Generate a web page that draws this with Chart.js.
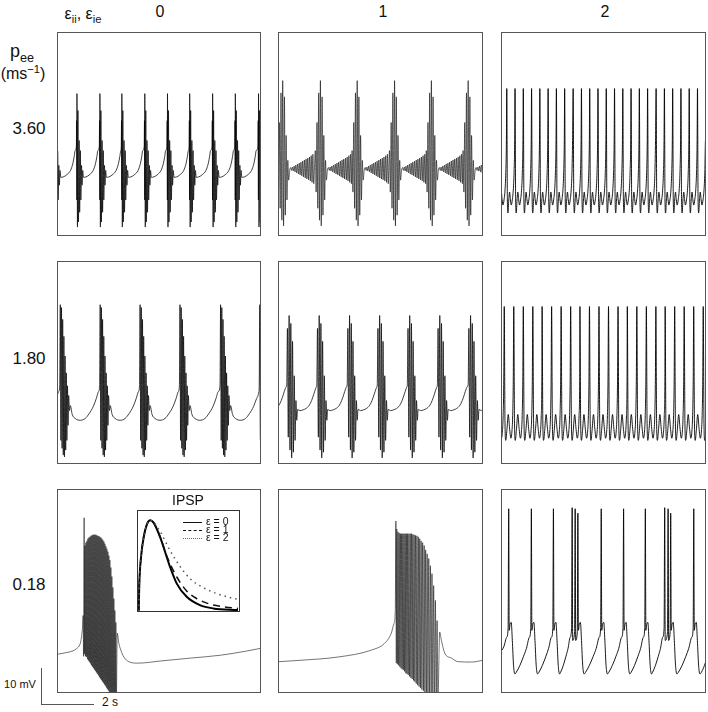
<!DOCTYPE html>
<html>
<head>
<meta charset="utf-8">
<script src="https://cdn.jsdelivr.net/npm/chart.js@4.4.1/dist/chart.umd.min.js"></script>
<style>
  body { margin: 0; background: #fff; }
  #fig { position: relative; width: 708px; height: 712px; background: #fff; font-family: "Liberation Sans", Arial, Helvetica, sans-serif; color: #111; }
  .panel { position: absolute; box-sizing: border-box; border: 1px solid #555; background: #fff; }
  .panel canvas { display: block; }
  .t { position: absolute; transform: translate(-50%, -50%); white-space: nowrap; line-height: 1; }
  .t sub, .t sup { font-size: 70%; line-height: 0; }
  .bar { position: absolute; background: #555; }
  .leg { position: absolute; font-size: 10.5px; line-height: 1; white-space: nowrap; }
  .leg i { display: inline-block; width: 19px; height: 0; vertical-align: middle; margin-right: 4px; }
</style>
</head>
<body>
<div id="fig">
  <div class="t" style="left:83px;top:14px;font-size:16px">ε<sub>ii</sub>, ε<sub>ie</sub></div>
  <div class="t" style="left:160px;top:12px;font-size:16px">0</div>
  <div class="t" style="left:383px;top:12px;font-size:16px">1</div>
  <div class="t" style="left:605px;top:12px;font-size:16px">2</div>
  <div class="t" style="left:22px;top:51px;font-size:18px">p<sub>ee</sub></div>
  <div class="t" style="left:23px;top:74px;font-size:16px">(ms<sup>−1</sup>)</div>
  <div class="t" style="left:29px;top:128px;font-size:17px">3.60</div>
  <div class="t" style="left:29px;top:358px;font-size:17px">1.80</div>
  <div class="t" style="left:29px;top:584px;font-size:17px">0.18</div>

  <div class="panel" style="left:57px;top:32px;width:204px;height:204px"><canvas id="pA" width="202" height="202"></canvas></div>
  <div class="panel" style="left:278px;top:32px;width:205px;height:204px"><canvas id="pB" width="203" height="202"></canvas></div>
  <div class="panel" style="left:501px;top:32px;width:205px;height:204px"><canvas id="pC" width="203" height="202"></canvas></div>
  <div class="panel" style="left:57px;top:261px;width:204px;height:203px"><canvas id="pD" width="202" height="201"></canvas></div>
  <div class="panel" style="left:278px;top:261px;width:205px;height:203px"><canvas id="pE" width="203" height="201"></canvas></div>
  <div class="panel" style="left:501px;top:261px;width:205px;height:203px"><canvas id="pF" width="203" height="201"></canvas></div>
  <div class="panel" style="left:57px;top:489px;width:204px;height:204px"><canvas id="pG" width="202" height="202"></canvas></div>
  <div class="panel" style="left:278px;top:489px;width:205px;height:204px"><canvas id="pH" width="203" height="202"></canvas></div>
  <div class="panel" style="left:501px;top:489px;width:205px;height:204px"><canvas id="pI" width="203" height="202"></canvas></div>

  <div class="t" style="left:188px;top:500px;font-size:14px">IPSP</div>
  <div class="panel" style="left:137px;top:510px;width:103px;height:102px;border-color:#333"><canvas id="pIpsp" width="101" height="100"></canvas></div>
  <div class="leg" style="left:183px;top:516px"><i style="border-top:1.5px solid #111"></i>ε = 0</div>
  <div class="leg" style="left:183px;top:524px"><i style="border-top:1.5px dashed #111"></i>ε = 1</div>
  <div class="leg" style="left:183px;top:532px"><i style="border-top:1.5px dotted #666"></i>ε = 2</div>

  <div class="bar" style="left:41px;top:668px;width:1px;height:37px"></div>
  <div class="bar" style="left:41px;top:704px;width:53px;height:1px"></div>
  <div class="t" style="left:20px;top:684px;font-size:11px">10 mV</div>
  <div class="t" style="left:110px;top:702px;font-size:12px">2 s</div>
</div>

<script>
// time in s (0 .. 8.1 per panel), membrane potential in mV above panel floor (0 .. 56)
var xMax = 8.1, yMax = 56;

// row 1, p_ee = 3.60
var burstTimesA = [-0.15, 0.76, 1.68, 2.56, 3.48, 4.39, 5.28, 6.20, 7.11, 8.04];
var burstShapeA = [[-0.024, 24.6], [-0.012, 31.7], [-0.004, 9.7], [0, 39.2], [0.02, 2.2], [0.04, 34.5], [0.06, 3.6],
  [0.088, 26.2], [0.108, 6.3], [0.136, 23.4], [0.156, 9.7], [0.184, 19.3], [0.204, 13.8], [0.232, 17.9],
  [0.26, 16.0], [0.36, 16.1], [0.52, 16.8], [0.652, 17.9], [0.748, 19.9], [0.80, 21.8], [0.836, 23.4]];

var burstTimesB = [0.148, 1.652, 3.12, 4.612, 6.08, 7.548];
var burstShapeB = [[-0.204, 23.4], [-0.17, 11.9], [-0.136, 31.2], [-0.102, 7.4], [-0.068, 39.4], [-0.034, 4.1],
  [0, 42.8], [0.034, 2.5], [0.068, 38.3], [0.102, 5.5], [0.136, 27.6], [0.17, 9.7], [0.204, 20.7], [0.238, 15.2],
  [0.28, 18.0], [0.32, 18.7], [0.354, 17.9], [0.388, 18.85], [0.422, 17.75], [0.456, 19.1], [0.49, 17.5],
  [0.524, 19.4], [0.558, 17.2], [0.592, 19.7], [0.626, 16.9], [0.66, 19.95], [0.694, 16.65], [0.728, 20.2],
  [0.762, 16.4], [0.796, 20.5], [0.83, 16.1], [0.864, 20.8], [0.898, 15.8], [0.932, 21.05], [0.966, 15.55],
  [1.0, 21.3], [1.034, 15.3], [1.068, 21.6], [1.102, 15.0], [1.136, 22.0], [1.17, 14.6], [1.204, 22.4], [1.238, 14.2]];

var spikeTimesC = [-0.14, 0.19, 0.52, 0.85, 1.18, 1.51, 1.84, 2.17, 2.50, 2.84, 3.17, 3.50, 3.83, 4.16, 4.49,
  4.82, 5.15, 5.48, 5.81, 6.15, 6.48, 6.81, 7.14, 7.47, 7.80, 8.13];
var spikeShapeC = [[0, 40.6], [0.024, 9.7], [0.048, 6.1], [0.08, 9.7], [0.112, 11.9], [0.144, 9.9], [0.18, 8.3],
  [0.22, 9.7], [0.26, 12.4], [0.292, 17.4], [0.316, 26.2]];

// row 2, p_ee = 1.80
var burstTimesD = [-1.508, 0.092, 1.692, 3.292, 4.892, 6.52, 8.092];
var burstShapeD = [[-0.024, 21.5], [0, 44.1], [0.024, 6.3], [0.048, 43.3], [0.072, 4.1], [0.096, 40.0], [0.12, 2.2],
  [0.144, 35.3], [0.168, 1.7], [0.192, 29.8], [0.216, 3.6], [0.24, 25.1], [0.264, 6.3], [0.288, 21.5],
  [0.312, 10.5], [0.336, 18.8], [0.368, 14.6], [0.40, 16.0], [0.48, 13.5], [0.60, 12.4], [0.80, 11.9],
  [1.00, 12.4], [1.16, 13.8], [1.32, 15.7], [1.44, 17.9], [1.536, 19.9]];

var burstTimesE = [-0.77, 0.44, 1.64, 2.852, 4.052, 5.252, 6.452, 7.68];
var burstShapeE = [[-0.132, 21.8], [-0.104, 37.5], [-0.07, 7.2], [-0.036, 41.1], [-0.002, 3.6], [0.032, 38.9],
  [0.066, 1.4], [0.1, 33.9], [0.134, 3.0], [0.168, 24.3], [0.202, 6.3], [0.236, 17.4], [0.268, 11.9],
  [0.30, 14.9], [0.40, 14.6], [0.52, 14.8], [0.64, 15.2], [0.76, 16.0], [0.86, 17.4], [0.94, 19.0],
  [1.02, 20.7], [1.052, 21.2]];

var spikeTimesF = [-0.29, 0.09, 0.47, 0.85, 1.23, 1.60, 1.98, 2.36, 2.74, 3.11, 3.49, 3.87, 4.25, 4.63, 5.00,
  5.38, 5.76, 6.14, 6.51, 6.89, 7.27, 7.65, 8.03];
var spikeShapeF = [[0, 43.6], [0.028, 11.9], [0.06, 6.3], [0.104, 9.1], [0.16, 13.5], [0.212, 9.7], [0.264, 6.9],
  [0.304, 8.6], [0.336, 13.2], [0.36, 22.9]];

// row 3, p_ee = 0.18
var traceG = [[0, 10.5], [0.32, 10.9], [0.6, 11.4], [0.76, 12.1], [0.88, 13.2], [0.92, 14.3], [0.98, 17.7],
  [1.008, 21.2], [1.024, 9.9], [1.048, 48.3], [1.064, 10.5],
  [1.08, 40.6], [1.10, 9.9], [1.12, 41.4], [1.14, 9.7], [1.16, 41.9], [1.18, 9.1], [1.20, 42.5], [1.22, 8.7],
  [1.24, 42.8], [1.26, 8.3], [1.28, 43.0], [1.30, 7.9], [1.32, 43.3], [1.34, 7.4], [1.36, 43.4], [1.38, 7.0],
  [1.40, 43.6], [1.42, 6.6], [1.44, 43.6], [1.46, 6.2], [1.48, 43.6], [1.50, 5.8], [1.52, 43.6], [1.54, 5.4],
  [1.56, 43.4], [1.58, 5.0], [1.60, 43.3], [1.62, 4.6], [1.64, 43.2], [1.66, 4.1], [1.68, 43.0], [1.70, 3.7],
  [1.72, 42.8], [1.74, 3.3], [1.76, 42.5], [1.78, 2.9], [1.80, 42.1], [1.82, 2.5], [1.84, 41.7], [1.86, 2.1],
  [1.88, 41.1], [1.90, 1.7], [1.92, 40.4], [1.94, 1.2], [1.96, 39.7], [1.98, 0.8], [2.00, 38.9], [2.02, 0.4],
  [2.04, 37.8], [2.06, 0.0], [2.08, 36.6], [2.10, -0.6], [2.12, 34.5], [2.14, -1.1], [2.16, 32.0], [2.18, -1.7],
  [2.20, 29.0], [2.22, -2.2], [2.24, 25.9], [2.26, -2.5], [2.28, 22.6], [2.30, -2.5], [2.32, 19.3], [2.34, -1.7],
  [2.376, 16.3], [2.44, 13.5], [2.52, 11.6], [2.64, 9.7], [2.84, 8.4], [3.2, 8.0], [4.12, 8.6], [5.32, 9.4],
  [6.52, 10.2], [7.52, 11.3], [8.12, 12.1]];

var traceH = [[0, 8.4], [0.88, 8.8], [2.36, 9.7], [3.68, 11.6], [4.212, 13.5], [4.48, 16.3], [4.588, 19.0],
  [4.64, 22.6], [4.664, 47.4], [4.68, 8.0],
  [4.70, 45.2], [4.724, 7.7], [4.748, 44.4], [4.772, 7.4], [4.796, 44.1], [4.82, 7.0], [4.844, 43.9], [4.868, 6.6],
  [4.892, 43.9], [4.916, 6.3], [4.94, 43.9], [4.964, 6.1], [4.988, 43.9], [5.012, 5.7], [5.036, 43.9], [5.06, 5.2],
  [5.084, 43.9], [5.108, 5.0], [5.132, 43.9], [5.158, 4.7], [5.184, 43.9], [5.21, 4.3], [5.236, 43.9], [5.262, 3.9],
  [5.288, 43.9], [5.314, 3.6], [5.34, 43.7], [5.366, 3.2], [5.392, 43.6], [5.42, 2.8], [5.448, 43.4], [5.476, 2.3],
  [5.504, 43.3], [5.532, 1.9], [5.56, 43.0], [5.588, 1.5], [5.616, 42.5], [5.644, 1.1], [5.672, 41.9], [5.702, 0.7],
  [5.732, 41.4], [5.762, 0.3], [5.792, 40.6], [5.822, -0.3], [5.852, 39.4], [5.882, -0.8], [5.912, 38.3],
  [5.944, -1.4], [5.976, 37.0], [6.008, -1.9], [6.04, 35.0], [6.072, -2.2], [6.104, 32.8], [6.138, -2.2],
  [6.172, 29.5], [6.206, -2.2], [6.24, 25.4], [6.274, -2.2], [6.308, 19.8], [6.34, -2.2],
  [6.412, 16.6], [6.48, 14.3], [6.612, 10.8], [6.88, 9.4], [7.148, 8.4], [7.68, 8.3], [8.148, 8.8]];

var traceI = [[0, 11.6], [0.08, 12.7], [0.188, 15.2], [0.244, 17.7], [0.268, 50.8], [0.288, 17.1], [0.324, 18.8],
  [0.368, 19.3], [0.412, 14.3], [0.46, 7.4], [0.516, 5.0],
  [0.572, 5.5], [0.716, 7.4], [0.86, 9.9], [0.976, 12.1], [1.092, 15.2],
  [1.148, 17.7], [1.172, 50.8], [1.192, 17.1], [1.228, 18.8], [1.272, 19.3], [1.316, 14.3], [1.364, 7.4], [1.42, 5.0],
  [1.476, 5.5], [1.612, 7.4], [1.752, 9.9], [1.86, 12.1], [1.972, 15.2],
  [2.028, 17.7], [2.052, 50.8], [2.072, 17.1], [2.108, 18.8], [2.152, 19.3], [2.196, 14.3], [2.244, 7.4], [2.30, 5.0],
  [2.34, 5.5], [2.448, 7.4], [2.552, 9.9], [2.636, 12.1], [2.72, 15.2],
  [2.776, 17.7], [2.80, 51.1], [2.82, 14.3], [2.896, 16.6], [2.92, 50.8], [2.94, 14.3], [3.004, 16.6], [3.028, 49.6],
  [3.048, 17.1], [3.084, 18.8], [3.128, 19.3], [3.172, 14.3], [3.22, 7.4], [3.276, 5.0],
  [3.336, 5.5], [3.488, 7.4], [3.64, 9.9], [3.76, 12.1], [3.88, 15.2],
  [3.936, 17.7], [3.96, 50.8], [3.98, 17.1], [4.016, 18.8], [4.06, 19.3], [4.104, 14.3], [4.152, 7.4], [4.208, 5.0],
  [4.264, 5.5], [4.404, 7.4], [4.548, 9.9], [4.66, 12.1], [4.772, 15.2],
  [4.828, 17.7], [4.852, 50.8], [4.872, 17.1], [4.908, 18.8], [4.952, 19.3], [4.996, 14.3], [5.044, 7.4], [5.10, 5.0],
  [5.156, 5.5], [5.288, 7.4], [5.424, 9.9], [5.532, 12.1], [5.64, 15.2],
  [5.696, 17.7], [5.72, 50.8], [5.74, 17.1], [5.776, 18.8], [5.82, 19.3], [5.864, 14.3], [5.912, 7.4], [5.968, 5.0],
  [6.012, 5.5], [6.124, 7.4], [6.236, 9.9], [6.324, 12.1], [6.412, 15.2],
  [6.468, 17.7], [6.492, 51.1], [6.512, 14.3], [6.604, 16.6], [6.628, 50.8], [6.648, 14.3], [6.708, 16.6],
  [6.732, 49.6], [6.752, 17.1], [6.788, 18.8], [6.832, 19.3], [6.876, 14.3], [6.924, 7.4], [6.98, 5.0],
  [7.04, 5.5], [7.188, 7.4], [7.336, 9.9], [7.452, 12.1], [7.572, 15.2],
  [7.628, 17.7], [7.652, 50.8], [7.672, 17.1], [7.708, 18.8], [7.752, 19.3], [7.796, 14.3], [7.844, 7.4], [7.90, 5.0],
  [7.96, 5.5], [8.08, 7.4], [8.2, 9.9]];

// inset: normalised IPSP time course
var ipspEps0 = [[0, 0], [0.007, 0.01], [0.013, 0.274], [0.03, 0.538], [0.056, 0.736], [0.089, 0.868], [0.121, 0.908],
  [0.154, 0.884], [0.22, 0.736], [0.285, 0.538], [0.318, 0.439], [0.384, 0.274], [0.482, 0.142], [0.613, 0.059],
  [0.744, 0.026], [0.99, 0.01]];
var ipspEps1 = [[0, 0], [0.007, 0.01], [0.013, 0.274], [0.03, 0.538], [0.056, 0.736], [0.089, 0.868], [0.121, 0.908],
  [0.154, 0.884], [0.22, 0.74], [0.285, 0.55], [0.318, 0.472], [0.384, 0.34], [0.482, 0.2], [0.58, 0.125],
  [0.711, 0.069], [0.843, 0.043], [0.99, 0.026]];
var ipspEps2 = [[0, 0], [0.007, 0.01], [0.013, 0.274], [0.03, 0.538], [0.056, 0.736], [0.089, 0.868], [0.121, 0.908],
  [0.154, 0.89], [0.19, 0.84], [0.22, 0.795], [0.318, 0.604], [0.416, 0.446], [0.515, 0.323], [0.646, 0.234],
  [0.777, 0.175], [0.908, 0.135], [0.99, 0.116]];

function toPts(pairs) {
  return pairs.map(function (p) { return { x: p[0], y: p[1] }; });
}

// place a read-off burst/spike shape at each read-off onset time
function tile(times, shape) {
  var pts = [];
  times.forEach(function (t0) {
    shape.forEach(function (p) {
      var x = t0 + p[0];
      if (pts.length && x <= pts[pts.length - 1].x) return;
      pts.push({ x: x, y: p[1] });
    });
  });
  return pts;
}

function trace(id, pts, width) {
  new Chart(document.getElementById(id), {
    type: "line",
    data: {
      datasets: [{
        data: pts,
        borderColor: "#000",
        borderWidth: width,
        pointRadius: 0,
        cubicInterpolationMode: "monotone",
      }],
    },
    options: {
      responsive: false,
      animation: false,
      events: [],
      layout: { padding: 0 },
      plugins: { legend: { display: false }, tooltip: { enabled: false } },
      scales: {
        x: { type: "linear", min: 0, max: xMax, display: false },
        y: { type: "linear", min: 0, max: yMax, display: false },
      },
    },
  });
}

trace("pA", tile(burstTimesA, burstShapeA), 0.75);
trace("pB", tile(burstTimesB, burstShapeB), 0.6);
trace("pC", tile(spikeTimesC, spikeShapeC), 0.9);
trace("pD", tile(burstTimesD, burstShapeD), 0.75);
trace("pE", tile(burstTimesE, burstShapeE), 0.75);
trace("pF", tile(spikeTimesF, spikeShapeF), 0.9);
trace("pG", toPts(traceG), 0.55);
trace("pH", toPts(traceH), 0.55);
trace("pI", toPts(traceI), 0.9);

new Chart(document.getElementById("pIpsp"), {
  type: "line",
  data: {
    datasets: [
      { label: "ε = 2", data: toPts(ipspEps2), borderColor: "#555", borderWidth: 1.5, borderDash: [1.5, 4], pointRadius: 0, cubicInterpolationMode: "monotone" },
      { label: "ε = 1", data: toPts(ipspEps1), borderColor: "#111", borderWidth: 1.5, borderDash: [7, 5], pointRadius: 0, cubicInterpolationMode: "monotone" },
      { label: "ε = 0", data: toPts(ipspEps0), borderColor: "#000", borderWidth: 2, pointRadius: 0, cubicInterpolationMode: "monotone" },
    ],
  },
  options: {
    responsive: false,
    animation: false,
    events: [],
    layout: { padding: 0 },
    plugins: { legend: { display: false }, tooltip: { enabled: false } },
    scales: {
      x: { type: "linear", min: 0, max: 1, display: false },
      y: { type: "linear", min: 0, max: 1, display: false },
    },
  },
});
</script>
</body>
</html>
